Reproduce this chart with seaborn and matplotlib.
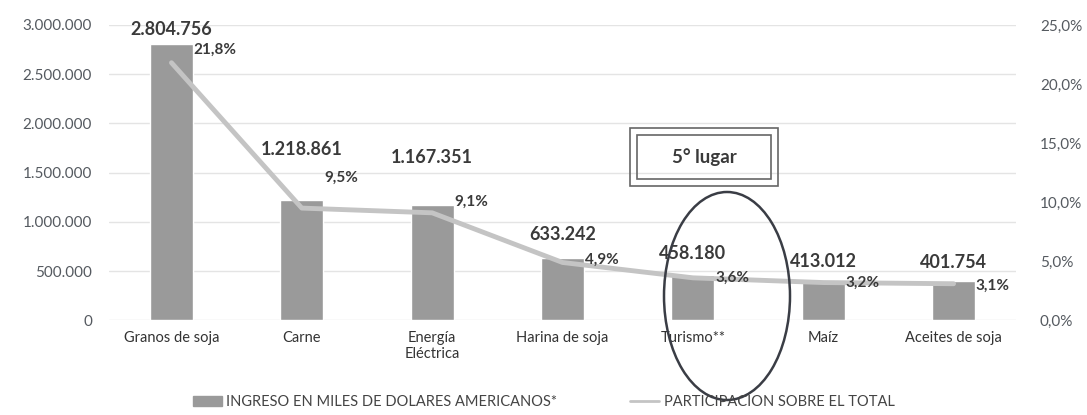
import pandas as pd
import numpy as np
import matplotlib.pyplot as plt
import seaborn as sns
from matplotlib.patches import Ellipse, Rectangle

categorias = ["Granos de soja", "Carne", "Energía\nEléctrica", "Harina de soja",
              "Turismo**", "Maíz", "Aceites de soja"]
ingresos = [2804756, 1218861, 1167351, 633242, 458180, 413012, 401754]
participacion = [21.8, 9.5, 9.1, 4.9, 3.6, 3.2, 3.1]
etiquetas_ingreso = ["2.804.756", "1.218.861", "1.167.351", "633.242", "458.180", "413.012", "401.754"]
etiquetas_pct = ["21,8%", "9,5%", "9,1%", "4,9%", "3,6%", "3,2%", "3,1%"]

sns.set_style("white")
plt.rcParams["font.family"] = ["Lato", "DejaVu Sans"]

df = pd.DataFrame({"cat": categorias, "ingreso": ingresos, "pct": participacion})
df["x"] = np.arange(len(df))

fig = plt.figure(figsize=(10.87, 4.15), dpi=100)
ax = fig.add_axes([0.1, 0.228, 0.835, 0.712])

sns.barplot(data=df, x="cat", y="ingreso", color="#9a9a9a", width=0.33,
            saturation=1, ax=ax, zorder=2)
ax.set_ylim(0, 3000000)
ax.set_yticks(np.arange(0, 3000001, 500000))
ax.set_yticklabels([f"{int(v):,}".replace(",", ".") for v in ax.get_yticks()],
                   color="#555a60", fontsize=11)
ax.set_xticks(df["x"])
ax.set_xticklabels(categorias, color="#333333", fontsize=10.5, linespacing=1.1)
ax.set_xlabel("")
ax.set_ylabel("")
ax.grid(axis="y", color="#e4e4e4", linewidth=1, zorder=0)
for s in ax.spines.values():
    s.set_visible(False)
ax.tick_params(axis="y", length=0, pad=12)
ax.tick_params(axis="x", length=0, pad=8)

ax2 = ax.twinx()
sns.lineplot(data=df, x="x", y="pct", color="#c4c4c4", linewidth=3.5, ax=ax2, zorder=3)
ax2.set_ylim(0, 25)
ax2.set_yticks(np.arange(0, 26, 5))
ax2.set_yticklabels([f"{v:.1f}%".replace(".", ",") for v in ax2.get_yticks()],
                    color="#555a60", fontsize=11)
ax2.set_ylabel("")
for s in ax2.spines.values():
    s.set_visible(False)
ax2.tick_params(length=0, pad=17)
ax2.set_xlim(ax.get_xlim())

# value labels
label_dy = [60000, 430000, 400000, 150000, 130000, 100000, 100000]
for i, (v, lab) in enumerate(zip(ingresos, etiquetas_ingreso)):
    ax.text(i, v + label_dy[i], lab, ha="center", va="bottom", fontsize=13,
            fontweight="bold", color="#3a3a3a")

pct_dy = [1.1, 2.6, 0.9, 0.2, 0.0, 0.0, -0.2]
for i, (p, lab) in enumerate(zip(participacion, etiquetas_pct)):
    ax2.text(i + 0.17, p + pct_dy[i], lab, ha="left", va="center", fontsize=11,
             fontweight="bold", color="#3a3a3a")

# highlight
fig.patches.append(Ellipse((727 / 1087, 1 - 296 / 415), 126 / 1087, 208 / 415,
                           transform=fig.transFigure, fill=False,
                           edgecolor="#3a3d45", linewidth=1.8, zorder=5))
fig.patches.append(Rectangle((630 / 1087, 1 - 186 / 415), 148 / 1087, 58 / 415,
                             transform=fig.transFigure, fill=False,
                             edgecolor="#666666", linewidth=1.2, zorder=5))
fig.patches.append(Rectangle((637 / 1087, 1 - 179 / 415), 134 / 1087, 44 / 415,
                             transform=fig.transFigure, fill=False,
                             edgecolor="#666666", linewidth=1.2, zorder=5))
fig.text(704 / 1087, 1 - 157 / 415, "5° lugar", ha="center", va="center",
         fontsize=13.5, fontweight="bold", color="#3a3a3a")

# legend
handles = [plt.Rectangle((0, 0), 1, 1, color="#9a9a9a"),
           plt.Line2D([0], [0], color="#c4c4c4", linewidth=2)]
fig.legend(handles, ["INGRESO EN MILES DE DOLARES AMERICANOS*", "PARTICIPACION SOBRE EL TOTAL"],
           loc="center", bbox_to_anchor=(0.5, 1 - 402 / 415), ncol=2, frameon=False,
           fontsize=10.5, handlelength=2.0, handletextpad=0.3, columnspacing=5,
           labelcolor="#444444")

fig.savefig("out.png", dpi=100)
